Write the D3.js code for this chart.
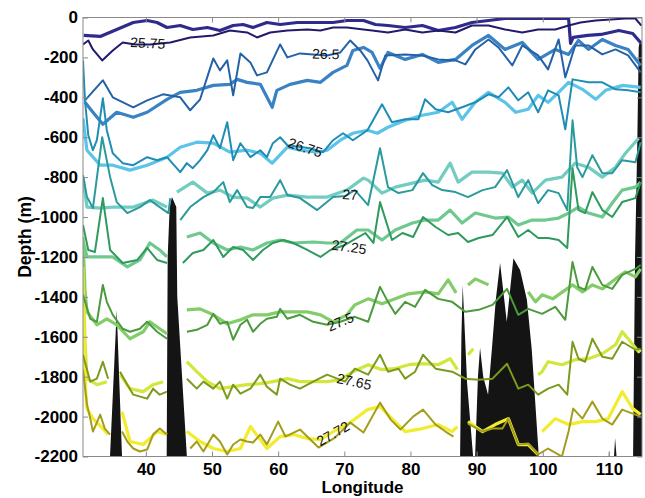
<!DOCTYPE html>
<html>
<head>
<meta charset="utf-8">
<script src="https://cdn.jsdelivr.net/npm/d3@7"></script>
<style>
  body { margin: 0; background: #fff; }
  text { font-family: "Liberation Sans", Arial, Helvetica, sans-serif; }
</style>
</head>
<body>
<div id="chart"></div>
<script>
// density levels (sigma) and the two sections per level, [longitude, depth], null = gap
const levels = ["25.75", "26.5", "26.75", "27", "27.25", "27.5", "27.65", "27.72"];

const s2575a = [[30.6,-90],[33.1,-95],[35.6,-60],[38.1,-25],[40.2,-15],[41.7,-25],[43.2,-50],[45.2,-40],[47.1,-60],[49.3,-50],[51.2,-65],[53.2,-40],[54.7,-35],[56.2,-50],[58.3,-25],[60.3,-35],[62.9,-25],[65.3,-25],[68.3,-25],[70.4,-15],[72.9,-15],[74.7,-35],[76.6,-40],[79.2,-50],[81.8,-40],[84.2,-65],[86.8,-50],[89.3,-25],[91.8,-15],[94.3,-5],[99.6,-5],[103.9,-5],[104.2,-130],[104.6,-100],[106.8,-90],[108.8,-85],[111.5,-65],[113.6,-80],[114.9,-130]];
const s2575b = [[30.5,-135],[31.3,-115],[32.0,-160],[33.4,-215],[35.0,-165],[36.5,-125],[38.4,-135],[40.6,-135],[43.7,-125],[46.7,-100],[50.2,-90],[52.7,-65],[55.3,-75],[56.8,-100],[58.8,-75],[61.4,-65],[64.4,-60],[66.4,-65],[68.3,-50],[70.4,-50],[72.9,-60],[74.2,-65],[76.6,-75],[79.2,-60],[81.8,-75],[84.2,-65],[86.8,-75],[89.3,-40],[91.8,-40],[94.3,-60],[96.9,-75],[99.3,-60],[101.9,-60],[103.9,-40],[105.7,-25],[108.0,-15],[110.3,-10],[112.5,-5],[114.0,-5],[114.9,-40]];

const s265a = [[30.8,-415],[33.5,-315],[35.0,-400],[38.1,-450],[40.2,-415],[42.6,-385],[45.2,-400],[46.7,-465],[48.2,-410],[50.2,-205],[51.2,-265],[52.3,-215],[53.2,-390],[54.3,-180],[55.8,-225],[56.8,-290],[58.3,-275],[60.3,-135],[61.4,-200],[63.3,-180],[65.3,-185],[67.4,-190],[69.4,-175],[70.9,-115],[72.4,-165],[73.5,-215],[75.1,-315],[76.2,-190],[79.2,-185],[81.8,-190],[84.2,-210],[86.8,-215],[88.3,-235],[89.8,-160],[91.8,-110],[93.3,-150],[95.4,-240],[96.9,-140],[99.3,-190],[100.8,-260],[102.4,-110],[103.4,-300],[104.9,-140],[106.9,-140],[109.0,-185],[111.0,-160],[112.9,-190],[114.8,-275]];
const s265b = [[30.8,-425],[32.0,-475],[33.5,-535],[35.6,-475],[38.1,-500],[40.2,-475],[43.2,-410],[45.2,-375],[47.7,-365],[50.2,-340],[52.7,-335],[53.8,-310],[55.3,-325],[57.3,-335],[59.1,-450],[59.8,-365],[61.8,-335],[64.4,-315],[66.4,-325],[68.3,-275],[70.4,-240],[71.3,-165],[72.9,-150],[74.2,-175],[75.4,-255],[76.6,-175],[79.2,-210],[81.8,-185],[84.2,-225],[86.8,-210],[89.3,-140],[91.8,-90],[94.3,-160],[96.9,-125],[99.3,-210],[101.9,-160],[103.9,-185],[105.4,-115],[106.9,-160],[109.0,-110],[111.0,-140],[112.9,-160],[114.8,-240]];

const s2675a = [[30.5,-505],[31.1,-665],[33.1,-740],[35.0,-740],[37.6,-765],[40.2,-740],[43.2,-700],[45.2,-650],[47.7,-625],[50.2,-630],[52.7,-675],[55.3,-665],[57.3,-680],[59.1,-730],[61.4,-650],[63.3,-665],[65.9,-675],[67.4,-665],[69.4,-615],[71.3,-580],[73.5,-565],[75.0,-580],[76.6,-550],[79.2,-515],[81.8,-490],[84.2,-475],[86.3,-425],[87.8,-510],[89.8,-425],[91.8,-375],[94.3,-425],[95.9,-475],[97.8,-460],[99.3,-390],[100.8,-425],[102.4,-375],[103.9,-325],[106.0,-360],[108.0,-410],[109.5,-365],[112.1,-340],[114.8,-350]];
const s2675b = [[30.5,-215],[30.8,-415],[31.3,-590],[32.0,-665],[32.6,-615],[33.5,-405],[34.1,-565],[35.0,-680],[36.5,-730],[38.1,-740],[40.2,-700],[41.7,-715],[43.2,-700],[45.2,-775],[46.2,-730],[47.1,-755],[48.2,-715],[49.3,-665],[50.2,-590],[51.2,-655],[52.3,-525],[53.2,-715],[54.3,-630],[55.8,-700],[57.3,-665],[58.3,-700],[59.2,-630],[60.3,-600],[61.4,-640],[64.8,-655],[66.8,-675],[68.3,-615],[69.8,-580],[71.3,-615],[73.5,-565],[75.7,-435],[77.2,-525],[79.2,-510],[81.2,-510],[82.2,-410],[83.8,-460],[85.7,-475],[87.8,-450],[89.8,-425],[91.8,-385],[93.3,-400],[94.8,-350],[96.3,-415],[97.8,-375],[99.3,-475],[100.8,-365],[102.4,-390],[103.4,-560],[104.5,-310],[106.9,-325],[109.0,-325],[111.0,-360],[112.9,-365],[114.8,-375]];

const s27a = [[30.5,-800],[31.1,-950],[33.1,-955],[35.0,-950],[38.1,-950],[41.1,-915],[43.2,-950],null,[44.7,-875],[47.1,-825],[49.3,-880],[51.2,-865],[53.2,-900],[55.3,-905],[57.3,-950],[59.2,-905],[61.4,-890],[64.4,-900],[67.4,-900],[70.4,-865],[72.9,-805],[73.6,-815],[75.7,-880],[77.7,-850],[80.3,-830],[82.2,-815],[84.2,-825],[86.0,-730],[87.2,-825],[89.3,-775],[91.8,-775],[93.9,-780],[95.4,-850],[96.9,-815],[98.4,-880],[100.4,-815],[102.9,-800],[104.9,-730],[106.9,-750],[109.0,-800],[111.0,-750],[112.5,-680],[114.5,-605]];
const s27b = [[30.5,-790],[31.1,-900],[32.0,-955],[33.4,-600],[34.6,-800],[35.6,-925],[37.2,-980],[39.1,-950],[40.6,-915],[42.1,-950],[43.4,-980],[43.7,-905],null,[45.2,-1015],[46.7,-950],[48.7,-900],[50.2,-875],[51.7,-825],[52.7,-925],[53.8,-865],[55.3,-950],[56.2,-955],[57.3,-900],[58.8,-900],[60.3,-815],[61.4,-890],[63.3,-905],[65.9,-965],[68.3,-900],[70.1,-895],[71.6,-865],[73.6,-940],[75.4,-655],[76.6,-850],[78.2,-880],[80.3,-865],[81.9,-780],[83.3,-840],[84.8,-865],[86.8,-875],[88.7,-900],[90.9,-865],[92.8,-850],[94.6,-765],[96.3,-900],[97.8,-815],[99.3,-930],[100.8,-865],[102.4,-880],[103.7,-965],[104.5,-515],[105.2,-750],[106.0,-800],[107.5,-690],[109.0,-780],[110.5,-780],[112.0,-715],[114.0,-725],[114.8,-625]];

const s2725a = [[30.5,-1115],[31.1,-1200],[33.1,-1200],[35.0,-1200],[37.2,-1250],[39.1,-1215],[40.6,-1130],[42.1,-1165],[43.2,-1200],null,[46.2,-1100],[48.2,-1080],[50.2,-1130],[52.3,-1165],[54.3,-1150],[56.2,-1165],[58.3,-1130],[60.3,-1115],[62.3,-1130],[65.3,-1125],[67.4,-1130],[69.4,-1130],[71.9,-1065],[73.6,-1065],[75.7,-1115],[77.7,-1065],[80.3,-1030],[82.2,-1015],[84.2,-1015],[86.0,-965],[87.8,-1030],[89.8,-980],[92.8,-1005],[94.8,-1000],[96.3,-1040],[98.4,-1015],[100.4,-1015],[102.4,-1005],[103.9,-980],[105.4,-950],[106.9,-980],[109.0,-1000],[110.5,-930],[112.0,-865],[114.0,-850],[114.8,-825]];
const s2725b = [[30.5,-1040],[31.3,-1165],[32.3,-1175],[33.5,-905],[34.6,-1165],[36.5,-1230],[38.7,-1215],[40.2,-1155],[41.7,-1215],[43.2,-1230],null,[45.6,-1230],[47.1,-1180],[48.7,-1165],[50.2,-1115],[51.7,-1200],[53.2,-1150],[54.7,-1165],[56.2,-1215],[57.7,-1165],[59.2,-1130],[60.8,-1115],[62.3,-1130],[64.4,-1165],[66.4,-1200],[67.9,-1165],[70.1,-1140],[73.2,-1080],[74.4,-1130],[75.4,-925],[77.2,-1115],[78.8,-1080],[80.4,-1100],[81.9,-1000],[83.8,-1050],[85.7,-1090],[87.2,-1080],[88.7,-1125],[90.3,-1105],[92.4,-1090],[94.6,-1000],[96.3,-1100],[97.8,-1065],[99.3,-1105],[100.8,-1105],[102.4,-1115],[103.7,-1155],[104.5,-755],[105.4,-965],[106.4,-980],[107.5,-875],[109.0,-965],[110.5,-1000],[112.0,-925],[114.0,-905],[114.8,-825]];

const s275a = [[30.5,-1100],[30.8,-1365],[31.1,-1475],[32.6,-1540],[34.1,-1510],[35.6,-1540],[37.6,-1610],[39.6,-1575],[40.6,-1525],[42.1,-1560],[43.2,-1585],null,[46.2,-1465],[48.2,-1460],[50.2,-1490],[52.3,-1535],[54.3,-1515],[56.2,-1490],[58.3,-1490],[60.3,-1475],[62.3,-1475],[64.4,-1475],[66.4,-1490],[68.3,-1525],[70.4,-1490],[71.6,-1440],[73.6,-1410],[75.7,-1435],[77.7,-1410],[79.7,-1385],[82.2,-1375],[84.2,-1385],[85.7,-1315],[86.9,-1380],null,[88.7,-1340],[89.8,-1310],[91.8,-1340],null,[97.8,-1375],[98.9,-1425],[99.9,-1390],[101.5,-1410],[103.0,-1375],[104.5,-1340],[106.0,-1375],[107.5,-1340],[109.0,-1360],[111.0,-1310],[112.5,-1275],[114.0,-1300],[114.8,-1260]];
const s275b = [[30.5,-1390],[31.6,-1510],[32.6,-1525],[33.5,-1340],[34.1,-1425],[35.0,-1490],[36.5,-1560],[37.6,-1575],[39.1,-1560],[40.2,-1525],[41.7,-1575],[43.2,-1610],null,[46.2,-1575],[47.7,-1565],[49.3,-1540],[50.2,-1485],[51.2,-1535],[52.3,-1525],[53.2,-1615],[54.3,-1540],[55.3,-1515],[56.2,-1575],[57.3,-1535],[58.3,-1510],[59.8,-1500],[60.3,-1460],[61.4,-1510],[63.3,-1490],[65.3,-1525],[67.4,-1540],[69.4,-1525],[71.6,-1500],[73.6,-1525],[75.4,-1350],[76.6,-1425],[77.7,-1485],[79.2,-1425],[80.7,-1450],[82.2,-1365],[84.2,-1410],[86.3,-1425],[88.3,-1475],[90.3,-1465],[92.4,-1440],[94.6,-1360],[96.3,-1490],[97.8,-1460],[99.9,-1485],[101.9,-1450],[103.4,-1515],[104.5,-1225],[105.4,-1350],[106.4,-1365],[107.5,-1250],[109.0,-1340],[110.5,-1360],[112.0,-1290],[114.0,-1260],[114.8,-1240]];

const s2765a = [[30.5,-1250],[30.8,-1615],[31.1,-1810],[32.6,-1840],[34.1,-1825],null,[36.1,-1790],[37.6,-1860],[39.6,-1875],[41.1,-1840],[42.6,-1825],null,[46.2,-1725],[47.7,-1775],[49.3,-1825],[51.2,-1860],[53.2,-1850],[55.3,-1840],[57.3,-1835],[59.2,-1825],[61.4,-1810],[63.3,-1825],[65.3,-1825],[67.4,-1825],[69.4,-1815],[71.3,-1775],[73.6,-1740],[75.7,-1765],[77.7,-1760],[79.7,-1740],[81.8,-1735],[84.2,-1740],[86.0,-1710],[87.1,-1765],null,[88.7,-1690],[89.5,-1660],null,[99.3,-1790],[99.9,-1775],[100.8,-1725],[102.9,-1740],[104.9,-1715],[106.9,-1710],[109.0,-1685],[111.0,-1640],[112.0,-1575],[112.9,-1610],[114.5,-1675],[114.8,-1665]];
const s2765b = [[30.5,-1690],[31.6,-1825],[32.6,-1810],[33.5,-1725],[34.3,-1810],null,[36.1,-1775],[37.2,-1840],[38.1,-1890],[40.2,-1910],[41.1,-1860],[42.1,-1890],[43.2,-1875],null,[46.2,-1810],[47.7,-1860],[48.7,-1825],[50.2,-1860],[51.2,-1825],[52.3,-1910],[53.2,-1840],[54.3,-1885],[55.8,-1860],[57.3,-1790],[58.3,-1850],[59.8,-1890],[60.3,-1810],[61.8,-1840],[63.3,-1860],[65.3,-1825],[67.4,-1790],[70.1,-1825],[71.6,-1760],[73.6,-1790],[75.4,-1690],[76.6,-1775],[78.2,-1760],[79.2,-1810],[80.7,-1775],[81.9,-1690],[83.8,-1760],[86.3,-1775],[88.3,-1810],[90.3,-1815],[92.4,-1810],[94.6,-1735],[96.3,-1860],[97.8,-1840],[99.3,-1890],[100.8,-1860],[102.4,-1840],[103.7,-1890],[104.5,-1625],[105.4,-1710],[106.4,-1725],[107.5,-1610],[109.0,-1700],[110.5,-1710],[112.0,-1625],[114.0,-1665],[114.8,-1660]];

const s2772a = [[30.5,-1450],[30.9,-1865],[31.1,-1960],[32.0,-2010],[33.5,-2060],[34.3,-2090],null,[36.4,-1975],[37.6,-2125],[39.6,-2140],[41.7,-2075],[43.2,-2090],null,[46.2,-2075],[48.2,-2125],[50.2,-2160],[52.3,-2175],[54.3,-2160],[55.8,-2050],[57.3,-2115],[58.3,-2160],[60.3,-2100],[62.3,-2090],[64.4,-2110],[66.4,-2115],[68.3,-2075],[70.9,-2030],[73.5,-1965],[75.4,-1950],[77.2,-2010],[79.2,-2075],[81.8,-2060],[84.2,-2040],[86.3,-2075],[87.1,-2050],null,[88.7,-2025],[90.9,-2075],[92.8,-2040],[94.8,-2010],[96.3,-2140],[97.8,-2140],[99.3,-2190],null,[99.9,-2075],[101.9,-2010],[103.9,-2040],[106.0,-2025],[108.0,-2025],[109.9,-2010],[112.0,-1875],[113.6,-1960],[114.8,-1990]];
const s2772b = [[30.5,-1765],[31.1,-1940],[31.6,-2010],[32.0,-2075],[33.1,-1990],[33.8,-2060],[34.6,-2090],null,[36.4,-2075],[37.2,-2125],[38.1,-2160],[39.1,-2175],[40.2,-2165],[41.1,-2090],[42.1,-2060],[43.2,-2090],null,[46.7,-2160],[47.7,-2125],[48.7,-2175],[50.2,-2090],[51.2,-2125],[52.3,-2190],[53.2,-2140],[54.3,-2115],[55.3,-2125],[56.2,-2130],[57.3,-2090],[58.3,-2140],[60.0,-2025],[61.1,-2100],[63.3,-2065],[66.1,-2155],[68.6,-2105],[70.9,-2030],[72.9,-2080],[75.4,-1930],[77.0,-2015],[78.5,-2065],[80.4,-2000],[81.9,-1965],[83.8,-2040],[85.3,-2075],[86.5,-2100],null,[88.7,-2035],[90.9,-2075],[92.4,-2060],[93.9,-2060],[94.8,-2010],[96.3,-2140],[97.8,-2135],[99.3,-2190],[100.8,-2160],[102.9,-2200],[103.9,-2075],[104.6,-1960],[106.0,-2010],[107.5,-1925],[109.0,-2010],[110.5,-2040],[112.0,-1965],[113.6,-1985],[114.8,-2000]];

// sea floor profile [longitude, depth]
const seafloor = [[30.5,-2300],[34.5,-2300],[34.58,-2200],[35.6,-1466],[36.4,-2200],[36.5,-2300],
  [43.1,-2300],[43.15,-2200],[43.3,-1200],[43.6,-950],[43.95,-900],[44.6,-950],[44.75,-1400],[46.2,-2200],[46.3,-2300],
  [87.4,-2300],[87.5,-2200],[87.7,-1600],[87.9,-1340],[88.56,-1830],[89.47,-2200],[89.5,-2300],
  [89.7,-2300],[89.77,-2200],[90.2,-1800],[90.52,-1655],[91.0,-1800],[91.73,-1890],[92.3,-1665],[92.9,-1415],[93.55,-1230],[94.56,-1525],[95.56,-1207],[96.57,-1265],[97.6,-1415],[98.34,-1666],[98.84,-1917],[99.34,-2167],[99.4,-2300],
  [109.9,-2300],[110.0,-2167],[110.1,-2300],
  [110.6,-2300],[110.93,-2107],[111.4,-2300],
  [113.6,-2300],[113.65,-2200],[113.95,-1200],[114.3,-600],[114.5,-150],[114.6,-130],[115,-130]];

const xTicks = [40, 50, 60, 70, 80, 90, 100, 110];
const yTicks = [0, -200, -400, -600, -800, -1000, -1200, -1400, -1600, -1800, -2000, -2200];

// where each level is labelled
const labelLon = [40.3, 67.2, 64.1, 70.9, 70.7, 69.4, 71.5, 68.3];
const labelDepth = [-128, -183, -652, -888, -1150, -1525, -1825, -2085];

const lightLines = [s2575a, s265b, s2675a, s27a, s2725a, s275a, s2765a, s2772a];
const darkLines = [s2575b, s265a, s2675b, s27b, s2725b, s275b, s2765b, s2772b];

const lightColors = ["#2f2b8c", "#3b82c4", "#5cc3e9", "#72cdc0", "#6fc98e", "#82cc6a", "#d3e63c", "#f2ec2e"];
const darkColors = ["#221a6c", "#2462a8", "#1f8db5", "#2a9a9c", "#2f9a5e", "#4b9a3c", "#7b9a1e", "#a39d1c"];
const labelAngle = [3, 2, 18, 5, 8, -23, 12, -30];

const W = 645, H = 498;
const mLeft = 83, mRight = 642, mTop = 17.5, mBottom = 456.5;

const svg = d3.select("#chart").append("svg")
  .attr("width", W).attr("height", H);

const x = d3.scaleLinear().domain([30.5, 115]).range([mLeft, mRight]);
const y = d3.scaleLinear().domain([0, -2200]).range([mTop, mBottom]);

svg.append("clipPath").attr("id", "plot")
  .append("rect")
  .attr("x", mLeft).attr("y", mTop)
  .attr("width", mRight - mLeft).attr("height", mBottom - mTop);

const plot = svg.append("g").attr("clip-path", "url(#plot)");

// sea floor
plot.append("path")
  .datum(seafloor)
  .attr("fill", "#141414")
  .attr("d", d3.area()
    .x(d => x(d[0]))
    .y0(y(-2300))
    .y1(d => y(d[1])));

const line = d3.line()
  .defined(d => d)
  .x(d => x(d[0]))
  .y(d => y(d[1]));

lightLines.forEach((pts, i) => {
  plot.append("path")
    .datum(pts)
    .attr("fill", "none")
    .attr("stroke", lightColors[i])
    .attr("stroke-width", 3.2)
    .attr("stroke-linejoin", "round")
    .attr("d", line);
});

darkLines.forEach((pts, i) => {
  plot.append("path")
    .datum(pts)
    .attr("fill", "none")
    .attr("stroke", darkColors[i])
    .attr("stroke-width", 2)
    .attr("stroke-linejoin", "round")
    .attr("d", line);
});

// contour labels
levels.forEach((lev, i) => {
  const px = x(labelLon[i]), py = y(labelDepth[i]);
  svg.append("text")
    .attr("transform", `translate(${px},${py}) rotate(${labelAngle[i]})`)
    .attr("text-anchor", "middle")
    .attr("dy", "0.35em")
    .style("font-size", "14px")
    .attr("fill", "#111")
    .text(lev);
});

// axes box with inward ticks
const frame = "#8a8a8a";
svg.append("rect")
  .attr("x", mLeft).attr("y", mTop)
  .attr("width", mRight - mLeft).attr("height", mBottom - mTop)
  .attr("fill", "none").attr("stroke", frame);

function styleAxis(g) {
  g.select(".domain").remove();
  g.selectAll(".tick line").attr("stroke", frame);
  g.selectAll(".tick text")
    .attr("fill", "#000")
    .style("font-size", "17px")
    .style("font-weight", "bold");
}

const plain = d => String(d);

svg.append("g")
  .attr("transform", `translate(0,${mBottom})`)
  .call(d3.axisBottom(x).tickValues(xTicks).tickFormat(plain).tickSizeInner(-5).tickSizeOuter(0).tickPadding(6))
  .call(styleAxis);

svg.append("g")
  .attr("transform", `translate(0,${mTop})`)
  .call(d3.axisTop(x).tickValues(xTicks).tickSizeInner(-5).tickSizeOuter(0).tickFormat(""))
  .call(styleAxis);

svg.append("g")
  .attr("transform", `translate(${mLeft},0)`)
  .call(d3.axisLeft(y).tickValues(yTicks).tickFormat(plain).tickSizeInner(-5).tickSizeOuter(0).tickPadding(5))
  .call(styleAxis);

svg.append("g")
  .attr("transform", `translate(${mRight},0)`)
  .call(d3.axisRight(y).tickValues(yTicks).tickSizeInner(-5).tickSizeOuter(0).tickFormat(""))
  .call(styleAxis);

svg.append("text")
  .attr("x", (mLeft + mRight) / 2)
  .attr("y", 493)
  .attr("text-anchor", "middle")
  .style("font-size", "17px")
  .style("font-weight", "bold")
  .text("Longitude");

svg.append("text")
  .attr("transform", `translate(31,${(mTop + mBottom) / 2}) rotate(-90)`)
  .attr("text-anchor", "middle")
  .style("font-size", "17.5px")
  .style("font-weight", "bold")
  .text("Depth (m)");
</script>
</body>
</html>
